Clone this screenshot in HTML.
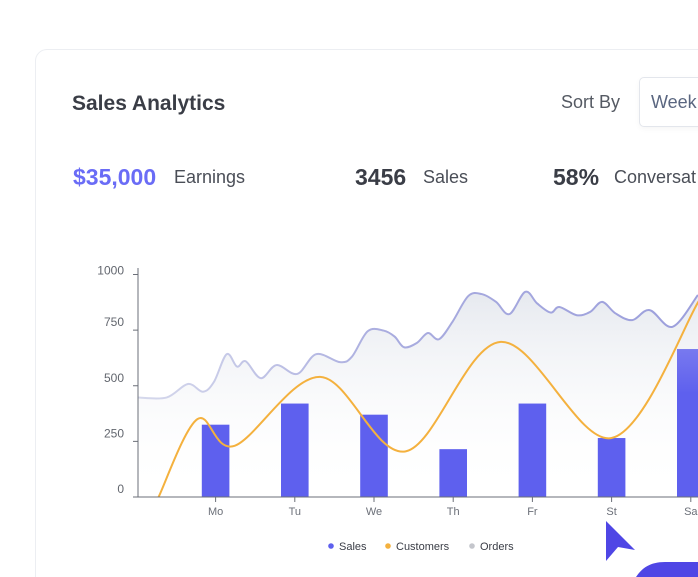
<!DOCTYPE html>
<html><head><meta charset="utf-8"><style>
html,body{margin:0;padding:0;background:#fff;width:698px;height:577px;overflow:hidden;font-family:"Liberation Sans",sans-serif;}
#wrap{position:absolute;left:0;top:0;width:698px;height:577px;overflow:hidden;}
.card{position:absolute;left:35px;top:49px;width:680px;height:540px;border:1px solid #eceef2;border-radius:12px;background:#fff;}
.t{position:absolute;white-space:nowrap;}
</style></head><body>
<div id="wrap">
<div class="card"></div>
<div class="t" style="left:72px;top:92px;font-size:21px;font-weight:bold;color:#3a3d46;">Sales Analytics</div>
<div class="t" style="left:561px;top:92px;font-size:18px;color:#555a63;">Sort By</div>
<div style="position:absolute;left:639px;top:77px;width:70px;height:48px;border:1px solid #e3e6ec;border-radius:5px;background:#fff;box-shadow:0 2px 6px rgba(0,0,0,0.04);">
<span class="t" style="left:11px;top:14px;font-size:18px;color:#5a6680;">Week</span></div>
<div class="t" style="left:73px;top:164px;font-size:23px;font-weight:bold;color:#6a6cf6;">$35,000</div>
<div class="t" style="left:174px;top:167px;font-size:18px;color:#4a4e57;">Earnings</div>
<div class="t" style="left:355px;top:164px;font-size:23px;font-weight:bold;color:#3a3d46;">3456</div>
<div class="t" style="left:423px;top:167px;font-size:18px;color:#4a4e57;">Sales</div>
<div class="t" style="left:553px;top:164px;font-size:23px;font-weight:bold;color:#3a3d46;">58%</div>
<div class="t" style="left:614px;top:167px;font-size:18px;color:#4a4e57;">Conversat</div>

<svg id="chart" width="698" height="577" style="position:absolute;left:0;top:0;" xmlns="http://www.w3.org/2000/svg">
<defs>
<linearGradient id="fillG" x1="0" y1="0" x2="0" y2="1"><stop offset="0" stop-color="#e6e9ef"/><stop offset="1" stop-color="#ffffff" stop-opacity="0"/></linearGradient>
<linearGradient id="lineG" x1="0" y1="0" x2="1" y2="0"><stop offset="0" stop-color="#d6d9ec"/><stop offset="0.45" stop-color="#a9acdf"/><stop offset="1" stop-color="#9c9fdc"/></linearGradient>
<linearGradient id="saG" x1="0" y1="0" x2="0" y2="1"><stop offset="0" stop-color="#7879ef"/><stop offset="0.3" stop-color="#5e60ee"/></linearGradient>
</defs>
<g id="plot"></g>
<path d="M606,521 L635,550 L618,547 L606,561 Z" fill="#4f46e5"/>
<path d="M636,577 C642,568 650,562 665,562 L698,562 L698,577 Z" fill="#4f46e5"/>
</svg>
</div>
<script>
const categories=["Mo","Tu","We","Th","Fr","St","Sa"];
const salesValues=[325,420,370,215,420,265,665];
const yTicks=[0,250,500,750,1000];
const customerPos=[-0.72,-0.23,0.24,1.32,2.4,3.6,5.0,6.1];
const customerValues=[0,350,230,540,205,697,265,880];
const orderPos=[-0.98,-0.62,-0.35,-0.16,-0.02,0.14,0.27,0.38,0.57,0.77,1.03,1.27,1.57,1.72,1.92,2.12,2.26,2.38,2.54,2.68,2.82,2.99,3.19,3.36,3.54,3.71,3.91,4.06,4.23,4.34,4.56,4.73,4.88,5.05,5.26,5.48,5.77,6.09];
const orderValues=[447,447,508,473,518,642,586,610,534,593,553,642,606,630,745,748,721,673,692,737,709,787,903,912,877,822,922,870,829,854,817,832,877,825,795,840,765,908];

const NS="http://www.w3.org/2000/svg";
const g=document.getElementById('plot');
const X0=215.6,DX=79.2,Y0=497,YS=0.2225,AX=138;
function xs(i){return X0+i*DX;}
function ys(v){return Y0-v*YS;}
function mk(t,a){const e=document.createElementNS(NS,t);for(const k in a)e.setAttribute(k,a[k]);g.appendChild(e);return e;}
function spline(px,py){let d="M"+px[0]+","+py[0];for(let i=0;i<px.length-1;i++){const p0x=px[Math.max(i-1,0)],p0y=py[Math.max(i-1,0)],p3x=px[Math.min(i+2,px.length-1)],p3y=py[Math.min(i+2,px.length-1)];const c1x=px[i]+(px[i+1]-p0x)/6,c1y=py[i]+(py[i+1]-p0y)/6,c2x=px[i+1]-(p3x-px[i])/6,c2y=py[i+1]-(p3y-py[i])/6;d+=" C"+c1x+","+c1y+" "+c2x+","+c2y+" "+px[i+1]+","+py[i+1];}return d;}

const ox=orderPos.map(xs),oy=orderValues.map(ys);
const od=spline(ox,oy);
let e=mk('path',{d:od+" L"+ox[ox.length-1]+","+Y0+" L"+ox[0]+","+Y0+" Z",fill:"url(#fillG)"});


salesValues.forEach((v,i)=>{const b=mk('rect',{x:xs(i)-13.8,y:ys(v),width:27.6,height:v*YS,fill:i==6?"url(#saG)":"#5e60ee"});

});
e=mk('path',{d:od,fill:"none",stroke:"url(#lineG)","stroke-width":2});


const cx=customerPos.map(xs),cy=customerValues.map(ys);
e=mk('path',{d:spline(cx,cy),fill:"none",stroke:"#f4b13e","stroke-width":2});


e=mk('line',{x1:AX,y1:268,x2:AX,y2:497,stroke:"#6b6f78","stroke-width":1});


e=mk('line',{x1:AX,y1:497,x2:698,y2:497,stroke:"#6b6f78","stroke-width":1});


yTicks.forEach(v=>{mk('line',{x1:AX-5,y1:ys(v),x2:AX,y2:ys(v),stroke:"#6b6f78"});
const t=mk('text',{x:124,y:ys(v)-4+(v==1000?4:0),"text-anchor":"end","font-size":12,fill:"#62666e","font-family":"Liberation Sans, sans-serif"});t.textContent=v;

});
categories.forEach((c,i)=>{mk('line',{x1:xs(i),y1:497,x2:xs(i),y2:502,stroke:"#6b6f78"});
const t=mk('text',{x:xs(i),y:515,"text-anchor":"middle","font-size":11,fill:"#6b6f78","font-family":"Liberation Sans, sans-serif"});t.textContent=c;

});
[["Sales","#5e60ee",331],["Customers","#f4b13e",388],["Orders","#c4c6cc",472]].forEach(l=>{
const c=mk('circle',{cx:l[2],cy:546,r:2.8,fill:l[1]});


const t=mk('text',{x:l[2]+8,y:550,"font-size":11,fill:"#3a3d46","font-family":"Liberation Sans, sans-serif"});t.textContent=l[0];

});
</script>
</body></html>
